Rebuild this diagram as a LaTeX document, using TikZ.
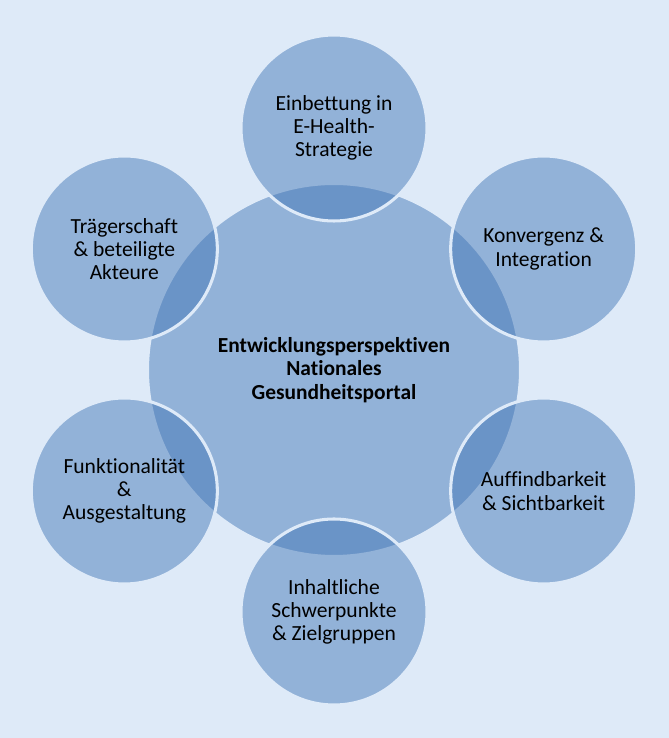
\documentclass[tikz,border=0pt]{standalone}
\usepackage{fontspec}
\setmainfont[Ligatures=NoCommon]{Carlito}
\usetikzlibrary{positioning}

\definecolor{bgblue}{RGB}{222,234,248}
\definecolor{discblue}{RGB}{62,115,180}

\begin{document}
\begin{tikzpicture}[
    disc/.style={circle,inner sep=0pt,align=center,
      fill=discblue,fill opacity=0.47,text opacity=1,
      draw=bgblue,line width=2.6pt,
      font=\fontsize{18.4}{19.8}\selectfont},
    node distance=7.26cm and 6.29cm, on grid
  ]

    % --- background ---
    \fill[bgblue] (0,0) rectangle (20.07,22.14);
    \useasboundingbox (0,0) rectangle (20.07,22.14);

    % --- central disc ---
    \node[disc,minimum size=11.19cm,font=\fontsize{18.3}{19.8}\selectfont\bfseries]
      (hub) at (10.02,11.04) {Entwicklungsperspektiven\\Nationales\\Gesundheitsportal};

    % --- surrounding discs ---
    \begin{scope}[every node/.style={disc,minimum size=5.58cm}]
      % top
      \node[above=of hub] (einbettung) {Einbettung in\\E-Health-\\Strategie};

      % right side
      \node[above right=3.63cm and 6.29cm of hub] (konvergenz) {Konvergenz \&\\Integration};
      \node[below right=3.63cm and 6.29cm of hub] (auffindbar) {Auffindbarkeit\\\& Sichtbarkeit};

      % bottom
      \node[below=of hub] (inhalt) {Inhaltliche\\Schwerpunkte\\\& Zielgruppen};

      % left side
      \node[below left=3.63cm and 6.29cm of hub] (funktion) {Funktionalität\\\&\\Ausgestaltung};
      \node[above left=3.63cm and 6.29cm of hub] (traeger) {Trägerschaft\\\& beteiligte\\Akteure};
    \end{scope}

\end{tikzpicture}
\end{document}
